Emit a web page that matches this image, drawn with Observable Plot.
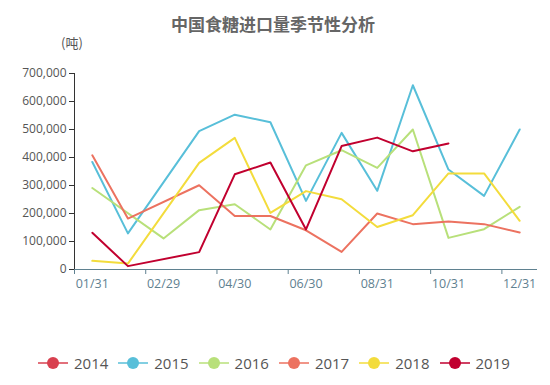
<!DOCTYPE html>
<html>
<head>
<meta charset="utf-8">
<script src="https://cdn.jsdelivr.net/npm/d3@7"></script>
<script src="https://cdn.jsdelivr.net/npm/@observablehq/plot@0.6"></script>
<style>
  html, body { margin: 0; padding: 0; background: #fff; }
  #wrap { position: relative; width: 550px; height: 385px; overflow: hidden; font-family: "Open Sans", "Noto Sans CJK SC", sans-serif; }
  #title { position: absolute; top: 11px; left: 0; width: 546px; text-align: center; font-family: "Noto Sans CJK SC", sans-serif; font-weight: bold; font-size: 17px; color: #666; }
  #unit { position: absolute; top: 33px; left: 61px; font-family: "Noto Sans CJK SC", sans-serif; font-size: 13px; color: #555; }
  #chart { position: absolute; top: 0; left: 0; }
  #legend { position: absolute; top: 352px; left: 0; width: 550px; height: 22px; }
  .item { position: absolute; top: 0; height: 22px; display: flex; align-items: center; font-size: 15px; color: #555; }
  .item svg { margin-right: 6px; }
</style>
</head>
<body>
<div id="wrap">
  <div id="title">中国食糖进口量季节性分析</div>
  <div id="unit">(吨)</div>
  <div id="chart"></div>
  <div id="legend"></div>
</div>
<script>
const categories = ["01/31","02/28","02/29","03/31","04/30","05/31","06/30","07/31","08/31","09/30","10/31","11/30","12/31"];
const tickLabels = ["01/31","02/29","04/30","06/30","08/31","10/31","12/31"];
const years = ["2014","2015","2016","2017","2018","2019"];
const colors = ["#d8404f","#58bfd9","#b8e07a","#ec7260","#f3dc3c","#c1002f"];
const yTicks = [0,100000,200000,300000,400000,500000,600000,700000];

const v2014 = [null,null,null,null,null,null,null,null,null,null,null,null,null];
const v2015 = [384000,129000,null,494000,553000,526000,245000,488000,281000,658000,357000,263000,500000];
const v2016 = [291000,null,111000,212000,233000,143000,372000,426000,363000,500000,113000,144000,224000];
const v2017 = [408000,182000,null,301000,191000,191000,140000,63000,200000,162000,171000,162000,132000];
const v2018 = [31000,21000,null,381000,470000,202000,280000,251000,152000,194000,343000,343000,174000];
const v2019 = [131000,12000,null,62000,340000,382000,143000,441000,471000,422000,450000,null,null];

const series = [v2014, v2015, v2016, v2017, v2018, v2019];
const rows = [];
series.forEach((vals, s) => {
  vals.forEach((v, i) => {
    if (v != null) rows.push({year: years[s], i, value: v});
  });
});

const labelIdx = tickLabels.map(l => categories.indexOf(l));
const boundaryTicks = d3.range(-0.5, categories.length, 2);

const axisColor = "#5f8190";

const chart = Plot.plot({
  width: 550,
  height: 300,
  marginLeft: 74,
  marginRight: 13,
  marginTop: 73,
  marginBottom: 31,
  style: {fontFamily: "'Open Sans', sans-serif", fontSize: "12px", background: "transparent", overflow: "visible"},
  x: {domain: [-0.5, categories.length - 0.5], axis: null},
  y: {domain: [0, 700000], axis: null},
  color: {domain: years, range: colors},
  marks: [
    Plot.axisY({ticks: yTicks, tickSize: 5, tickPadding: 3, tickFormat: d3.format(","), stroke: "#333", fill: "#555", label: null, fontSize: 12}),
    Plot.ruleX([-0.5], {stroke: "#333", strokeWidth: 1}),
    Plot.axisX({ticks: boundaryTicks, tickSize: 5, tickFormat: () => "", stroke: axisColor, label: null}),
    Plot.axisX({ticks: labelIdx, tickSize: 0, tickPadding: 10, tickFormat: i => categories[i], fill: axisColor, label: null, fontSize: 12.5}),
    Plot.line(rows, {x: "i", y: "value", stroke: "year", z: "year", strokeWidth: 2, strokeLinejoin: "round", strokeLinecap: "round"}),
    Plot.ruleY([0], {stroke: axisColor, strokeWidth: 1.2})
  ]
});
document.getElementById("chart").appendChild(chart);

const legend = document.getElementById("legend");
years.forEach((y, k) => {
  const div = document.createElement("div");
  div.className = "item";
  div.style.left = (38 + k * 80.3) + "px";
  div.innerHTML = `<svg width="30" height="14"><line x1="0" x2="30" y1="7" y2="7" stroke="${colors[k]}" stroke-width="1.5"/><circle cx="15" cy="7" r="6" fill="${colors[k]}"/></svg><span>${y}</span>`;
  legend.appendChild(div);
});
</script>
</body>
</html>
